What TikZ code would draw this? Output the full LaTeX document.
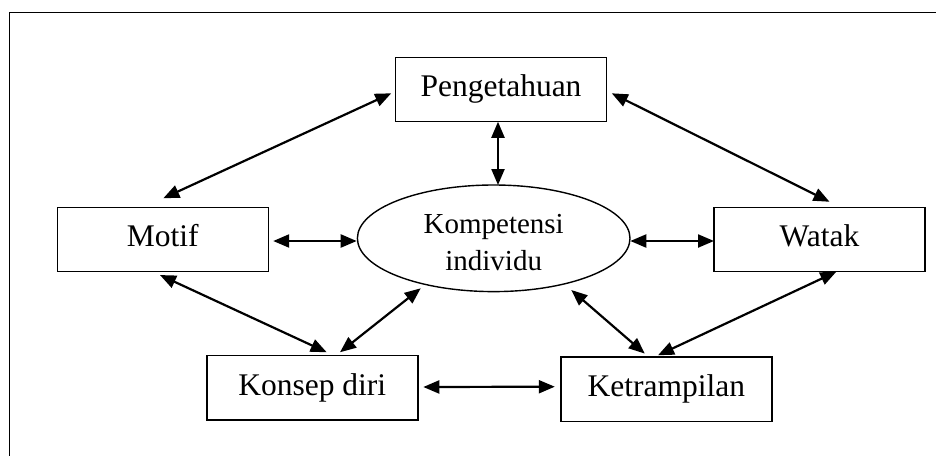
\documentclass[tikz,border=0pt]{standalone}
\usepackage{fontspec}
\setmainfont{Liberation Serif}
\usetikzlibrary{arrows.meta,calc,shapes.geometric}
\begin{document}
\begin{tikzpicture}[x=1pt,y=-1pt,
  box/.style={draw,line width=1.4pt,rectangle,minimum width=211pt,minimum height=64.5pt,inner sep=0pt,outer sep=0pt,font=\fontsize{31.5}{36}\selectfont,text height=21.7pt,text depth=6.9pt},
  oval/.style={draw,line width=1.4pt,ellipse,minimum width=272.6pt,minimum height=106.6pt,inner sep=0pt,outer sep=0pt,align=center,font=\fontsize{29}{34}\selectfont},
  arr/.style={line width=2.2pt,{Triangle[length=16pt,width=13pt]}-{Triangle[length=16pt,width=13pt]}}]
\useasboundingbox (0,0) rectangle (936,455);
% outer frame (clipped on right and bottom)
\draw[line width=1.4pt] (9.3,470) -- (9.3,12.7) -- (950,12.7);

\node[box] (P) at (501,89.5) {Pengetahuan};
\node[box] (M) at (162.7,239.5) {Motif};
\node[box] (W) at (819.5,239.5) {Watak};
\node[box] (K) at (312.3,387.8) {Konsep diri};
\node[box] (T) at (666.3,389.3) {Ketrampilan};
\node[oval] (E) at (493.7,238.3) {\rule{0pt}{27pt}Kompetensi\\[3pt]individu};

\draw[arr] ($(P.west)+(-4.3,3.8)$) -- ($(M.north)+(0.6,-9)$);
\draw[arr] ($(P.east)+(5.3,3.8)$) -- ($(W.north)+(10,-5.5)$);
\draw[arr] ($(P.south)+(-3,0)$) -- ($(E.north)+(4.3,0)$);
\draw[arr] ($(M.east)+(5,1.5)$) -- ($(E.west)+(-0.7,2.7)$);
\draw[arr] ($(E.east)+(0.3,2.7)$) -- ($(W.west)+(0,1.5)$);
\draw[arr] ($(M.south)+(-2.7,3.3)$) -- ($(K.north)+(14.4,-3.3)$);
\draw[arr] ($(K.north)+(27.7,-3.3)$) -- ($(E.center)+(-73,50)$);
\draw[arr] ($(K.east)+(5.5,-0.8)$) -- ($(T.west)+(-6,-2.6)$);
\draw[arr] ($(E.center)+(77.6,51.7)$) -- ($(T.north)+(-21.6,-3.5)$);
\draw[arr] ($(W.south)+(16.8,0)$) -- ($(T.north)+(-8.3,-1.8)$);
\end{tikzpicture}
\end{document}
